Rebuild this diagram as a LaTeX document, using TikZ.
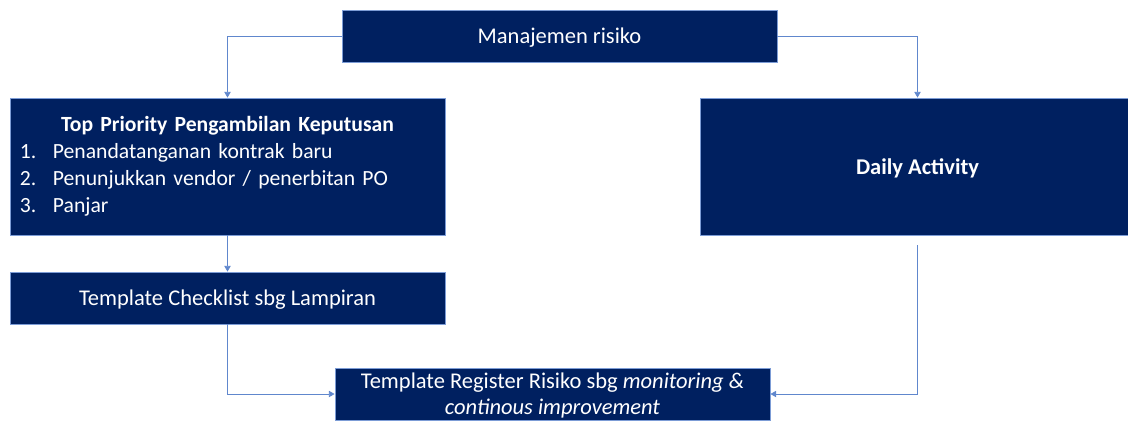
\documentclass[tikz,border=0pt]{standalone}
\usepackage{fontspec}
\setmainfont{Carlito}
\usetikzlibrary{positioning}
\usetikzlibrary{arrows.meta}
\usetikzlibrary{calc}
\definecolor{navy}{HTML}{002060}
\definecolor{edgeblue}{HTML}{4472C4}
\tikzset{
        boxnode/.style={align=center,inner sep=0pt,text=white,text depth=0pt,font=\fontsize{16}{19}\selectfont},
        % Dark boxes
        node_dark/.style={boxnode, rectangle, fill=navy, draw=edgeblue!70, line width=0.6pt, minimum width=10.875cm},
        % Short boxes
        node_short/.style={node_dark, minimum height=1.3cm},
        % Tall boxes
        node_tall/.style={node_dark, minimum height=3.425cm},
        % Connectors
        link/.style={draw=edgeblue!85, line width=0.5pt, -{Triangle[width=4.5pt,length=4pt]}}
}
\newcommand{\listitem}[2]{\makebox[0.825cm][l]{#1}#2}

\begin{document}
\begin{tikzpicture}[x=0.025cm, y=-0.025cm]
            \useasboundingbox (0,0) rectangle (1128,423);
            \node[node_short] (mr) at (559.5,36) {Manajemen risiko};
            \node[node_tall, align=left, text depth=, text width=10.375cm, font=\fontsize{15.4}{19.2}\selectfont] (tpp) at (227.5,166.5) {%
                \makebox[\linewidth][c]{\bfseries Top Priority Pengambilan Keputusan}\\
                \listitem{1.}{Penandatanganan kontrak baru}\\
                \listitem{2.}{Penunjukkan vendor / penerbitan PO}\\
                \listitem{3.}{Panjar}};
            \node[node_tall, font=\fontsize{16}{19}\selectfont\bfseries] (dly) at (917.5,166.5) {Daily Activity};
            \node[node_short] (chk) at (227.5,298) {Template Checklist sbg Lampiran};
            \node[node_short, font=\fontsize{16}{18.5}\selectfont] (reg) at (552.5,394)
                {Template Register Risiko sbg \emph{monitoring \&}\\ \emph{continous improvement}};
            \coordinate (dlyend) at ($(dly.south)+(0,10)$);

            \draw[link] (mr.west) -| (tpp.north);
            \draw[link] (mr.east) -| (dly.north);
            \draw[link] (tpp.south) -- (chk.north);
            \draw[link] (chk.south) |- (reg.west);
            \draw[link] (dlyend) |- (reg.east);
        \end{tikzpicture}
\end{document}
